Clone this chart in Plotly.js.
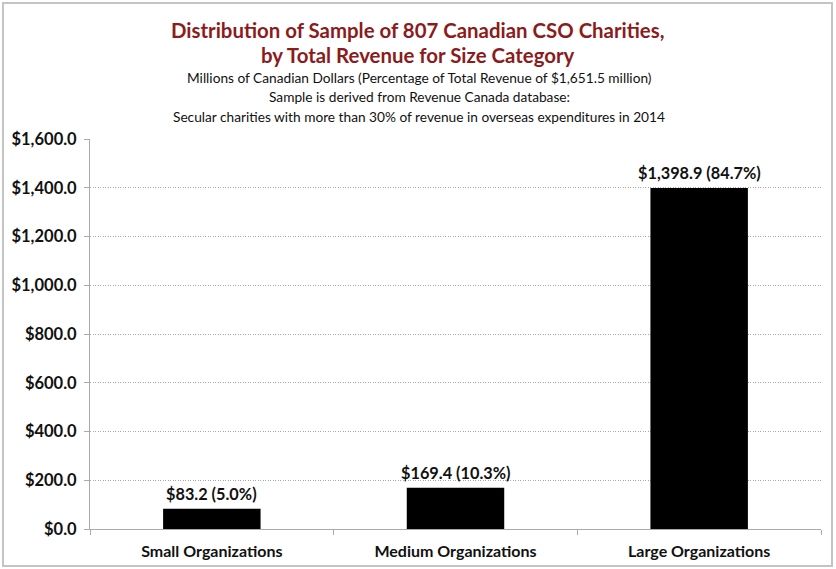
<!DOCTYPE html>
<html>
<head>
<meta charset="utf-8">
<script src="https://cdn.plot.ly/plotly-3.0.1.min.js"></script>
<style>
html,body{margin:0;padding:0;background:#fff;}
#chart{width:836px;height:569px;}
</style>
</head>
<body>
<div id="chart"></div>
<script>
const categories = ["Small Organizations", "Medium Organizations", "Large Organizations"];
const revenue = [83.2, 169.4, 1398.9];
const percentages = [5.0, 10.3, 84.7];
const yTickVals = [0, 200, 400, 600, 800, 1000, 1200, 1400, 1600];
const titleLines = ["Distribution of Sample of 807 Canadian CSO Charities,", "by Total Revenue for Size Category"];
const subtitleLines = [
  "Millions of Canadian Dollars (Percentage of Total Revenue of $1,651.5 million)",
  "Sample is derived from Revenue Canada database:",
  "Secular charities with more than 30% of revenue in overseas expenditures in 2014"
];

const FONT = "Lato, 'Open Sans', sans-serif";

function money(v) {
  return "$" + v.toLocaleString("en-US", {minimumFractionDigits: 1, maximumFractionDigits: 1});
}

const labels = revenue.map((v, i) => money(v) + " (" + percentages[i].toFixed(1) + "%)");

const trace = {
  type: "bar",
  x: categories,
  y: revenue,
  marker: {color: "#000000"},
  width: 0.4,
  hoverinfo: "skip"
};

// plot area in pixels: left 90, right 821, top 139, bottom 529
const PL = 90, PR = 821, PT = 139, PB = 529;
function px(X) { return (X - PL) / (PR - PL); }
function py(Y) { return (PB - Y) / (PB - PT); }

const annotations = [];
const titleY = [30, 55];
titleLines.forEach((t, i) => annotations.push({
  text: "<b>" + t + "</b>", xref: "paper", yref: "paper",
  x: px(418), y: py(titleY[i]), xanchor: "center", yanchor: "middle",
  showarrow: false, font: {family: FONT, size: 20.4, color: "#8b1c1c"}
}));
const subY = [78, 97, 116];
subtitleLines.forEach((t, i) => annotations.push({
  text: t, xref: "paper", yref: "paper",
  x: px(419), y: py(subY[i]), xanchor: "center", yanchor: "middle",
  showarrow: false, font: {family: FONT, size: 13.7, color: "#111"}
}));
categories.forEach((c, i) => annotations.push({
  text: "<b>" + labels[i] + "</b>", xref: "x", yref: "y",
  x: c, y: revenue[i], xanchor: "center", yanchor: "bottom", yshift: 4,
  showarrow: false, font: {family: FONT, size: 16.3, color: "#111"}
}));

const layout = {
  width: 836,
  height: 569,
  margin: {l: PL, r: 836 - PR, t: PT, b: 569 - PB},
  paper_bgcolor: "#fff",
  plot_bgcolor: "#fff",
  showlegend: false,
  font: {family: FONT, color: "#111"},
  annotations: annotations,
  xaxis: {
    type: "category",
    tickson: "boundaries",
    ticks: "outside",
    ticklen: 5,
    tickcolor: "#aaa",
    showline: true,
    linecolor: "#aaa",
    linewidth: 1,
    showgrid: false,
    ticklabelstandoff: 8,
    tickfont: {family: FONT, size: 16, color: "#111", weight: "bold"},
    range: [-0.5, 2.5],
    fixedrange: true
  },
  yaxis: {
    range: [0, 1600],
    tickvals: yTickVals,
    ticktext: yTickVals.map(money),
    ticks: "outside",
    ticklen: 5,
    tickcolor: "#aaa",
    showline: true,
    linecolor: "#aaa",
    linewidth: 1,
    showgrid: true,
    gridcolor: "#a8a8a8",
    griddash: "1px,1.5px",
    gridwidth: 1,
    zeroline: false,
    ticklabelstandoff: 4,
    tickfont: {family: FONT, size: 16.5, color: "#111", weight: "bold"},
    fixedrange: true
  },
  shapes: [{
    type: "rect", xref: "paper", yref: "paper",
    x0: px(3), x1: px(832), y0: py(566), y1: py(3),
    line: {color: "#c4c4c4", width: 2},
    layer: "below"
  }]
};

Plotly.newPlot("chart", [trace], layout, {displayModeBar: false, staticPlot: true});
</script>
</body>
</html>
